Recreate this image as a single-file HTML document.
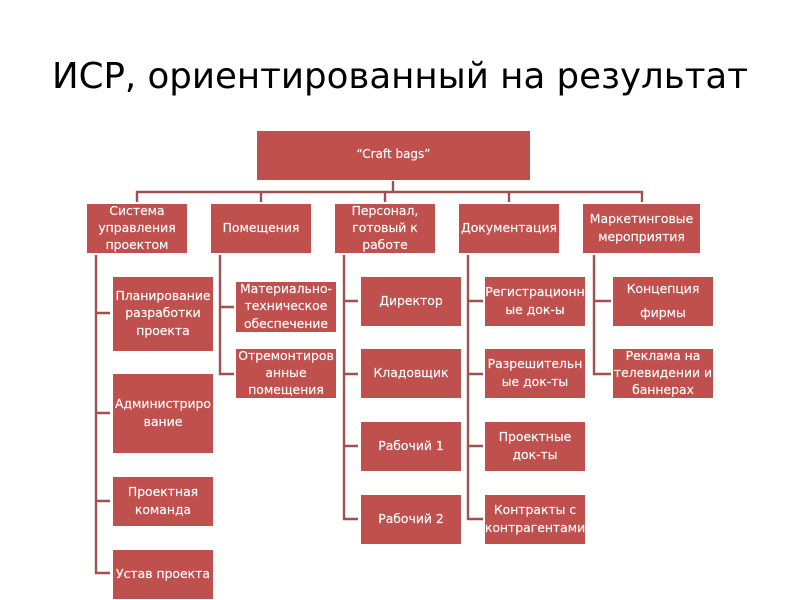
<!DOCTYPE html>
<html lang="ru">
<head>
<meta charset="utf-8">
<style>
html,body{margin:0;padding:0;background:#fff;}
#p{position:relative;width:800px;height:600px;overflow:hidden;background:#fff;font-family:"DejaVu Sans",sans-serif;}
h1{position:absolute;left:0;top:54px;width:800px;margin:0;text-align:center;font-weight:normal;font-size:35.6px;line-height:46px;color:#000;white-space:nowrap;}
.b{position:absolute;box-sizing:border-box;padding-bottom:2px;background:#c0504d;color:#fff;display:flex;align-items:center;justify-content:center;text-align:center;font-size:12.4px;line-height:17.3px;white-space:nowrap;-webkit-text-stroke:0.15px #fff;}
svg{position:absolute;left:0;top:0;}
</style>
</head>
<body>
<div id="p">
<h1>ИСР, ориентированный на результат</h1>
<svg width="800" height="600" fill="none" stroke="#a0504f" stroke-width="2.4">
<path d="M393 181V192M137 202V192H642V202M261 192V202M385 192V202M509 192V202"/>
<path d="M96 255V573H110M96 313H110M96 413H110M96 501H110"/>
<path d="M220 255V374H234M220 307H234"/>
<path d="M344 255V519H358M344 301H358M344 374H358M344 446H358"/>
<path d="M468 255V519H483M468 301H483M468 374H483M468 446H483"/>
<path d="M594 255V374H611M594 301H611"/>
</svg>
<div class="b" style="left:257px;top:131px;width:273px;height:49px;font-size:12px;">“Craft bags”</div>

<div class="b" style="left:87px;top:204px;width:100px;height:49px;">Система<br>управления<br>проектом</div>
<div class="b" style="left:211px;top:204px;width:100px;height:49px;">Помещения</div>
<div class="b" style="left:335px;top:204px;width:100px;height:49px;">Персонал,<br>готовый к<br>работе</div>
<div class="b" style="left:459px;top:204px;width:100px;height:49px;">Документация</div>
<div class="b" style="left:583px;top:204px;width:117px;height:49px;">Маркетинговые<br>мероприятия</div>

<div class="b" style="left:113px;top:277px;width:100px;height:74px;">Планирование<br>разработки<br>проекта</div>
<div class="b" style="left:113px;top:374px;width:100px;height:79px;">Администриро<br>вание</div>
<div class="b" style="left:113px;top:477px;width:100px;height:49px;">Проектная<br>команда</div>
<div class="b" style="left:113px;top:550px;width:100px;height:49px;">Устав проекта</div>

<div class="b" style="left:236px;top:282px;width:100px;height:50px;">Материально-<br>техническое<br>обеспечение</div>
<div class="b" style="left:236px;top:349px;width:100px;height:49px;">Отремонтиров<br>анные<br>помещения</div>

<div class="b" style="left:361px;top:277px;width:100px;height:49px;">Директор</div>
<div class="b" style="left:361px;top:349px;width:100px;height:49px;">Кладовщик</div>
<div class="b" style="left:361px;top:422px;width:100px;height:49px;">Рабочий 1</div>
<div class="b" style="left:361px;top:495px;width:100px;height:49px;">Рабочий 2</div>

<div class="b" style="left:485px;top:277px;width:100px;height:49px;">Регистрационн<br>ые док-ы</div>
<div class="b" style="left:485px;top:349px;width:100px;height:49px;">Разрешительн<br>ые док-ты</div>
<div class="b" style="left:485px;top:422px;width:100px;height:49px;">Проектные<br>док-ты</div>
<div class="b" style="left:485px;top:495px;width:100px;height:49px;">Контракты с<br>контрагентами</div>

<div class="b" style="left:613px;top:277px;width:100px;height:49px;line-height:24px;">Концепция<br>фирмы</div>
<div class="b" style="left:613px;top:349px;width:100px;height:49px;">Реклама на<br>телевидении и<br>баннерах</div>
</div>
</body>
</html>
